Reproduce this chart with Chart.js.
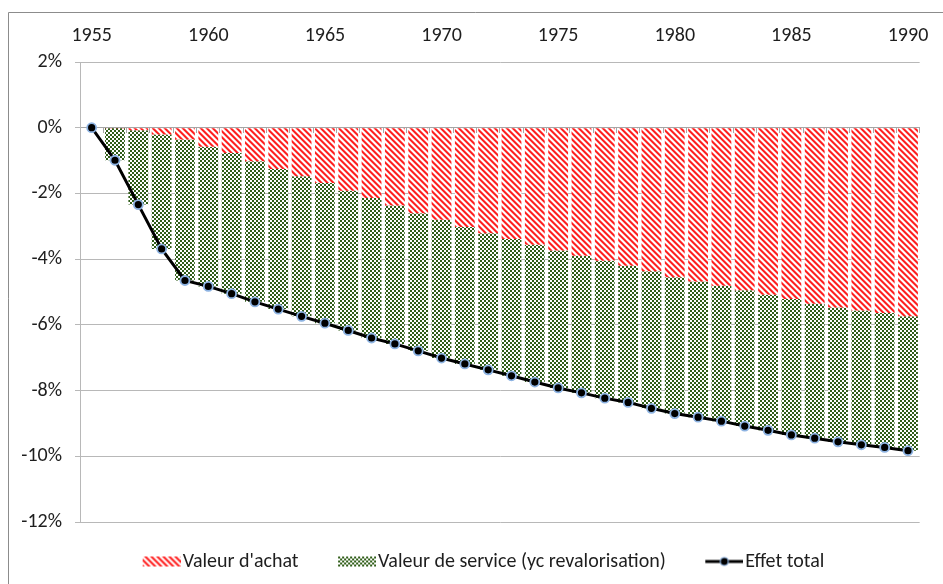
<!DOCTYPE html>
<html><head><meta charset="utf-8">
<script src="https://cdn.jsdelivr.net/npm/chart.js@4.4.1/dist/chart.umd.min.js"></script>
<style>html,body{margin:0;padding:0;background:#fff}#wrap{width:943px;height:584px;position:relative}</style>
</head><body><div id="wrap"><canvas id="c" width="943" height="584"></canvas></div>
<script>
const years = ['1955','1956','1957','1958','1959','1960','1961','1962','1963','1964','1965','1966','1967','1968','1969','1970','1971','1972','1973','1974','1975','1976','1977','1978','1979','1980','1981','1982','1983','1984','1985','1986','1987','1988','1989','1990'];
const xTickLabels = ['1955','1960','1965','1970','1975','1980','1985','1990'];
const valeurAchat = [0,-0.01,-0.08,-0.21,-0.36,-0.58,-0.77,-1.02,-1.26,-1.48,-1.68,-1.92,-2.14,-2.37,-2.60,-2.80,-3.02,-3.21,-3.39,-3.56,-3.74,-3.90,-4.05,-4.20,-4.37,-4.55,-4.68,-4.81,-4.95,-5.08,-5.21,-5.36,-5.47,-5.56,-5.64,-5.74];
const valeurService = [0,-0.98,-2.26,-3.48,-4.29,-4.25,-4.28,-4.28,-4.26,-4.26,-4.27,-4.25,-4.26,-4.21,-4.19,-4.21,-4.17,-4.16,-4.16,-4.18,-4.18,-4.17,-4.18,-4.16,-4.17,-4.15,-4.13,-4.12,-4.13,-4.13,-4.14,-4.09,-4.09,-4.09,-4.09,-4.09];
const effetTotal = [0,-0.99,-2.34,-3.69,-4.65,-4.83,-5.05,-5.30,-5.52,-5.74,-5.95,-6.17,-6.40,-6.58,-6.79,-7.01,-7.19,-7.37,-7.55,-7.74,-7.92,-8.07,-8.23,-8.36,-8.54,-8.70,-8.81,-8.93,-9.08,-9.21,-9.35,-9.45,-9.56,-9.65,-9.73,-9.83];
const seriesNames = ["Valeur d'achat", "Valeur de service (yc revalorisation)", "Effet total"];

const FONT = 'Carlito, Lato, "Open Sans", sans-serif';
const FS = 20;
const TXT = '#1e1e1e';

function tile(w, h, fn) {
  const cv = document.createElement('canvas');
  cv.width = w; cv.height = h;
  const g = cv.getContext('2d');
  for (let y = 0; y < h; y++) for (let x = 0; x < w; x++) {
    const col = fn(x, y);
    if (col) { g.fillStyle = col; g.fillRect(x, y, 1, 1); }
  }
  return cv;
}
const redTile = tile(6, 6, (x, y) => {
  const d = ((x - y) % 6 + 6) % 6;
  return ['#ff2020', '#ff2020', '#ff7a7a', '#ffffff', '#ffffff', '#ffb0b0'][d];
});
const greenTile = tile(4, 4, (x, y) => ((Math.floor(x / 2) + Math.floor(y / 2)) % 2 === 0) ? '#2f5d18' : '#ffffff');
const pctx = document.createElement('canvas').getContext('2d');
const redPattern = pctx.createPattern(redTile, 'repeat');
const greenPattern = pctx.createPattern(greenTile, 'repeat');

const PW = 40;              // legend pointStyleWidth
const LW = PW + FS - 4;     // legend image width
function legendImg(kind) {
  const cv = document.createElement('canvas');
  cv.width = LW; cv.height = 14;
  const g = cv.getContext('2d');
  const x0 = LW - 38;
  if (kind === 'line') {
    g.strokeStyle = '#000'; g.lineWidth = 3;
    g.beginPath(); g.moveTo(x0, 7); g.lineTo(LW, 7); g.stroke();
    g.beginPath(); g.arc(x0 + 19, 7, 4, 0, Math.PI * 2);
    g.fillStyle = '#000'; g.fill();
    g.strokeStyle = '#8db3e2'; g.lineWidth = 1.2; g.stroke();
  } else {
    g.fillStyle = g.createPattern(kind === 'red' ? redTile : greenTile, 'repeat');
    g.fillRect(x0, 2, 38, 10);
  }
  return cv;
}
const legRed = legendImg('red'), legGreen = legendImg('green'), legLine = legendImg('line');

const framePlugin = {
  id: 'frame',
  beforeDraw(chart) {
    const c = chart.ctx;
    c.save();
    c.fillStyle = '#fff';
    c.fillRect(0, 0, chart.width, chart.height);
    c.strokeStyle = '#8c8c8c'; c.lineWidth = 1;
    c.beginPath(); c.moveTo(8.5, chart.height); c.lineTo(8.5, 12.5); c.lineTo(chart.width, 12.5); c.stroke();
    c.restore();
  }
};

new Chart(document.getElementById('c'), {
  type: 'bar',
  data: {
    labels: years,
    datasets: [
      { type: 'bar', label: seriesNames[0], data: valeurAchat, backgroundColor: redPattern, borderWidth: 0,
        stack: 'bars', order: 1, barPercentage: 0.85, categoryPercentage: 1 },
      { type: 'bar', label: seriesNames[1], data: valeurService, backgroundColor: greenPattern, borderWidth: 0,
        stack: 'bars', order: 1, barPercentage: 0.85, categoryPercentage: 1 },
      { type: 'line', label: seriesNames[2], data: effetTotal, borderColor: '#000', borderWidth: 3,
        pointRadius: 4.5, pointBackgroundColor: '#000', pointBorderColor: '#8db3e2', pointBorderWidth: 1.8,
        tension: 0, stack: 'total', order: 0, fill: false }
    ]
  },
  options: {
    responsive: false,
    animation: false,
    layout: { padding: { left: 14, right: 0, top: 0, bottom: 2.5 } },
    plugins: {
      tooltip: { enabled: false },
      legend: {
        position: 'bottom',
        labels: {
          usePointStyle: true,
          pointStyleWidth: PW,
          padding: 29.5,
          color: TXT,
          font: { family: FONT, size: FS },
          generateLabels: () => [
            { text: seriesNames[0], pointStyle: legRed, fillStyle: 'transparent', strokeStyle: 'transparent', lineWidth: 0, hidden: false, datasetIndex: 0, fontColor: TXT },
            { text: seriesNames[1], pointStyle: legGreen, fillStyle: 'transparent', strokeStyle: 'transparent', lineWidth: 0, hidden: false, datasetIndex: 1, fontColor: TXT },
            { text: seriesNames[2], pointStyle: legLine, fillStyle: 'transparent', strokeStyle: 'transparent', lineWidth: 0, hidden: false, datasetIndex: 2, fontColor: TXT }
          ]
        }
      }
    },
    scales: {
      x: {
        type: 'category', position: 'top', stacked: true, offset: true,
        grid: { display: false, drawTicks: false },
        border: { display: false },
        ticks: {
          autoSkip: false, maxRotation: 0, padding: 14.5, color: TXT,
          font: { family: FONT, size: FS },
          callback: function (v, i) { const l = this.getLabelForValue(v); return xTickLabels.includes(l) ? l : ''; }
        },
        afterFit: (s) => { s.height = 62; }
      },
      x0: {
        type: 'category', axis: 'x', position: { y: 0 }, offset: true,
        grid: { offset: true, drawOnChartArea: false, drawTicks: true, tickLength: 5, color: '#a6a6a6' },
        border: { display: true, color: '#a6a6a6' },
        ticks: { display: false }
      },
      y: {
        stacked: true, min: -12, max: 2,
        grid: { color: '#b8b8b8', tickLength: 5 },
        border: { display: true, color: '#b8b8b8' },
        ticks: { stepSize: 2, padding: 13, color: TXT, font: { family: FONT, size: FS },
          callback: (v) => v + '%' },
        afterFit: (s) => { s.width = 66; }
      },
      yR: {
        type: 'linear', axis: 'y', position: 'right', display: true,
        grid: { display: false, drawTicks: false },
        border: { display: false },
        ticks: { display: false },
        afterFit: (s) => { s.width = 16.5; }
      }
    }
  },
  plugins: [framePlugin]
});
</script>
</body></html>
